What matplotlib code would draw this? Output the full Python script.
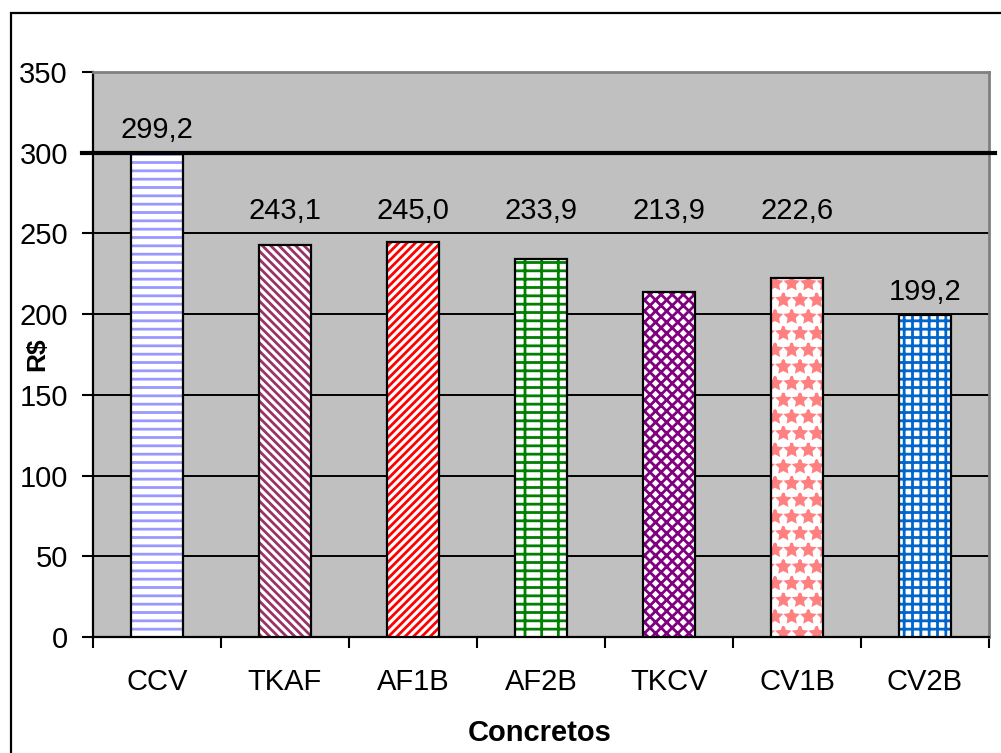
import matplotlib
matplotlib.use("Agg")
import matplotlib.pyplot as plt
from matplotlib.patches import Rectangle
import numpy as np

plt.rcParams['font.family'] = ['Liberation Sans', 'DejaVu Sans']
plt.rcParams['hatch.linewidth'] = 2.0

# Dados
concretos = ['CCV', 'TKAF', 'AF1B', 'AF2B', 'TKCV', 'CV1B', 'CV2B']
custo = [299.2, 243.1, 245.0, 233.9, 213.9, 222.6, 199.2]
limite = 300

# Padroes de cada barra
cores = ['#9999FF', '#993366', '#FF0000', '#008000', '#800080', '#FF8080', '#0066CC']
hachuras = ['--', '\\\\\\\\', '////', '--|', 'xxx', '*', '++']

fig = plt.figure(figsize=(10.01, 7.53), dpi=100)
ax = fig.add_axes([0.0929, 0.154, 0.8951, 0.7504])
ax.set_facecolor('#C0C0C0')

x = np.arange(len(concretos))
largura = 0.41

# Barras hachuradas e contorno preto
for i in range(len(concretos)):
    ax.bar(x[i], custo[i], largura, color='white', edgecolor=cores[i],
           hatch=hachuras[i], linewidth=0, zorder=3)
ax.bar(x, custo, largura, fill=False, edgecolor='black', linewidth=1.6, zorder=4)

# Rotulos de valor: ficam logo acima da linha de grade seguinte
for i in range(len(concretos)):
    y_rot = np.ceil(custo[i] / 50) * 50 + 14
    ax.text(x[i], y_rot, f'{custo[i]:.1f}'.replace('.', ','),
            ha='center', va='center', fontsize=21, zorder=6)

# Linha de referencia
ax.plot([-0.0123, 1.0067], [limite, limite], color='black', linewidth=3,
        transform=ax.get_yaxis_transform(), clip_on=False, zorder=5)

ax.set_ylim(0, 350)
ax.set_xlim(-0.5, len(concretos) - 0.5)
ax.set_yticks(np.arange(0, 351, 50))
ax.yaxis.grid(True, color='black', linewidth=1.4)
ax.set_axisbelow(True)

ax.set_xticks(x)
ax.set_xticklabels(concretos)
ax.set_xticks(np.arange(-0.5, len(concretos), 1), minor=True)
ax.tick_params(axis='x', which='major', length=0, pad=22, labelsize=21)
ax.tick_params(axis='x', which='minor', length=8, width=1.5, direction='out')
ax.tick_params(axis='y', length=8, width=1.5, pad=10, labelsize=21)

for lado in ['left', 'bottom']:
    ax.spines[lado].set_color('black')
    ax.spines[lado].set_linewidth(1.6)
for lado in ['top', 'right']:
    ax.spines[lado].set_color('#808080')
    ax.spines[lado].set_linewidth(2)

ax.set_ylabel('R$', fontsize=19, fontweight='bold')
ax.yaxis.set_label_coords(-0.049, 0.5)
ax.set_xlabel('Concretos', fontsize=21, fontweight='bold')
ax.xaxis.set_label_coords(0.499, -0.145)

# Moldura externa
fig.add_artist(Rectangle((0.011, -0.5), 2, 0.9827 + 0.5, fill=False,
                         edgecolor='black', linewidth=1.6,
                         transform=fig.transFigure))

fig.savefig('out.png', dpi=100, facecolor='white')
